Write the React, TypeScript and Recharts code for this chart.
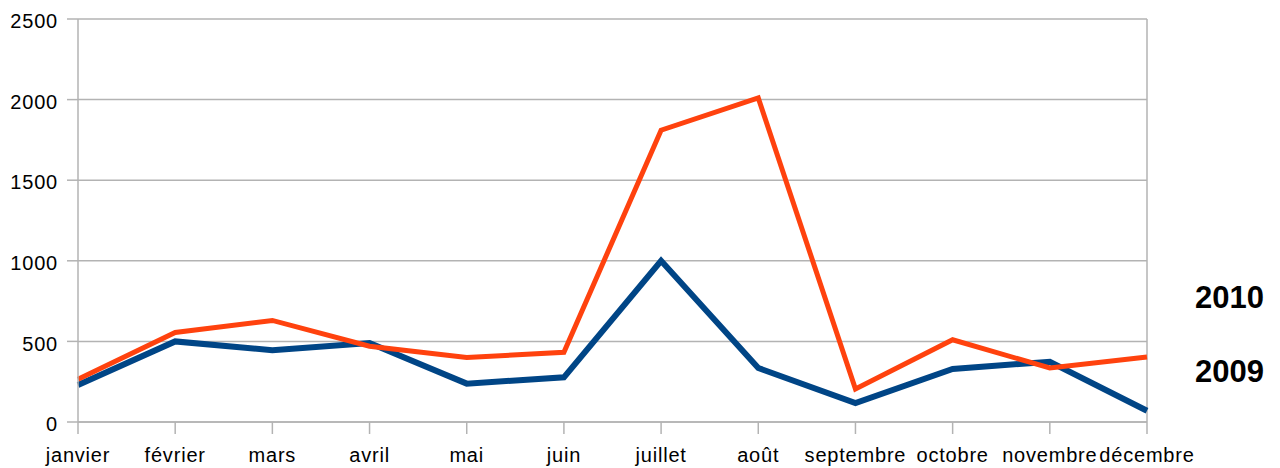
import { LineChart, Line, XAxis, YAxis, CartesianGrid, ReferenceLine } from "recharts";

const months = ["janvier", "février", "mars", "avril", "mai", "juin", "juillet", "août", "septembre", "octobre", "novembre", "décembre"];
const values2009 = [230, 500, 445, 490, 238, 277, 1000, 335, 118, 329, 374, 70];
const values2010 = [265, 555, 630, 470, 400, 432, 1810, 2010, 205, 510, 335, 403];
const yTicks = [0, 500, 1000, 1500, 2000, 2500];
const seriesNames = ["2010", "2009"];

const data = months.map((m, i) => ({ month: m, y2009: values2009[i], y2010: values2010[i] }));

const gridColor = "#b3b3b3";
const font = "'Liberation Sans', Arial, sans-serif";
const tickStyle = { fill: "#000", fontSize: 20, fontFamily: font, letterSpacing: 0.8 };

export default function App() {
  return (
    <div style={{ position: "absolute", left: 0, top: 0, width: 1280, height: 468, background: "#fff" }}>
      <LineChart width={1280} height={468} data={data} margin={{ top: 19, right: 133, left: 0, bottom: 6 }}>
        <CartesianGrid vertical={false} stroke={gridColor} strokeWidth={1.5} />
        <XAxis
          dataKey="month"
          interval={0}
          stroke={gridColor}
          strokeWidth={1.5}
          tickSize={12}
          tickMargin={14}
          height={40}
          tick={tickStyle}
        />
        <YAxis
          domain={[0, 2500]}
          ticks={yTicks}
          width={78}
          stroke={gridColor}
          strokeWidth={1.5}
          tickSize={11}
          tickMargin={9}
          tick={{ ...tickStyle, dy: 2 }}
        />
        <ReferenceLine x="décembre" stroke={gridColor} strokeWidth={1.5} />
        <Line dataKey="y2009" name="2009" stroke="#004586" strokeWidth={6} dot={false} isAnimationActive={false} />
        <Line dataKey="y2010" name="2010" stroke="#ff420e" strokeWidth={5} dot={false} isAnimationActive={false} />
      </LineChart>
      <div style={{ position: "absolute", left: 1195, top: 281, fontFamily: font, fontWeight: "bold", fontSize: 31, color: "#000" }}>
        {seriesNames.map((n) => (
          <div key={n} style={{ height: 74, lineHeight: "34px" }}>{n}</div>
        ))}
      </div>
    </div>
  );
}
